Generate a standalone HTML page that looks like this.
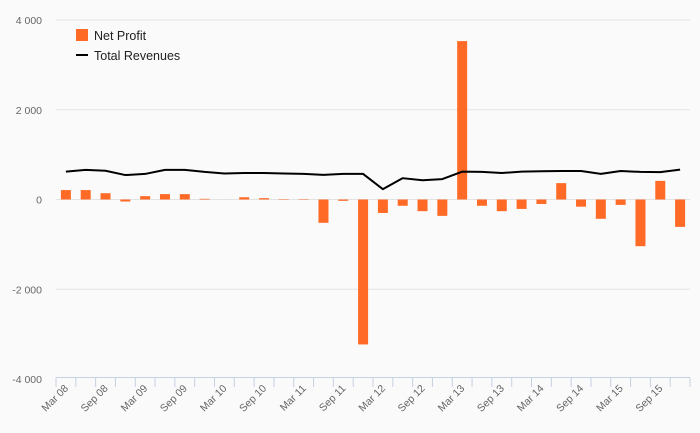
<!DOCTYPE html>
<html><head><meta charset="utf-8"><style>
html,body{margin:0;padding:0;background:#fafafa;}
svg{display:block;font-family:"Liberation Sans","DejaVu Sans",sans-serif;}
</style></head><body>
<svg id="chart" width="700" height="433">
<rect width="700" height="433" fill="#fafafa"/>
<g id="grid"></g><g id="bars"></g><g id="line"></g><g id="xaxis"></g><g id="yaxis"></g>
<g>
<rect x="76" y="29" width="12" height="12" fill="#ff6b27"/>
<text x="94" y="40" font-size="12.5" fill="#222">Net Profit</text>
<line x1="76" y1="55" x2="88" y2="55" stroke="#000" stroke-width="2"/>
<text x="94" y="60" font-size="12.5" fill="#222">Total Revenues</text>
</g>
</svg>
<script>
const quarters=["Mar 08","Jun 08","Sep 08","Dec 08","Mar 09","Jun 09","Sep 09","Dec 09","Mar 10","Jun 10","Sep 10","Dec 10","Mar 11","Jun 11","Sep 11","Dec 11","Mar 12","Jun 12","Sep 12","Dec 12","Mar 13","Jun 13","Sep 13","Dec 13","Mar 14","Jun 14","Sep 14","Dec 14","Mar 15","Jun 15","Sep 15","Dec 15"];
const netProfit=[210,210,140,-45,75,120,120,15,0,50,30,10,10,-520,-30,-3230,-300,-140,-260,-365,3530,-140,-260,-210,-100,365,-160,-430,-120,-1040,415,-610];
const totalRevenues=[620,660,640,545,570,660,660,615,580,590,590,580,570,550,570,570,230,475,430,455,620,615,590,620,630,635,635,570,635,615,610,665];
const yTicks=[4000,2000,0,-2000,-4000];
const yTickLabels=["4 000","2 000","0","-2 000","-4 000"];
const NS="http://www.w3.org/2000/svg";
const L=56,R=690,T=20,B=379;
const band=(R-L)/quarters.length;
function x(i){return L+band*(i+0.5);}
function y(v){return T+(4000-v)/8000*(B-T);}
function mk(tag,attrs,parent){const e=document.createElementNS(NS,tag);for(const k in attrs)e.setAttribute(k,attrs[k]);parent.appendChild(e);return e;}
const grid=document.getElementById('grid'),yax=document.getElementById('yaxis');
yTicks.forEach((t,i)=>{
 if(t!==-4000){const g=mk('line',{x1:L,x2:R,y1:y(t),y2:y(t),stroke:'#e3e3e3','stroke-width':1},grid);
 
 }
 const tx=mk('text',{x:42,y:y(t)+4,'text-anchor':'end','font-size':10.5,fill:'#666'},yax);
 tx.textContent=yTickLabels[i];
 
 
});
const bars=document.getElementById('bars');
netProfit.forEach((v,i)=>{
 const y0=y(0),yv=y(v);
 const r=mk('rect',{x:x(i)-5,y:Math.min(y0,yv),width:10,height:Math.max(Math.abs(yv-y0),0.01),fill:'#ff6b27'},bars);
 
 
});
const pts=totalRevenues.map((v,i)=>x(i)+','+y(v)).join(' ');
const pl=mk('polyline',{points:pts,fill:'none',stroke:'#000','stroke-width':2,'stroke-linejoin':'round'},document.getElementById('line'));


const xa=document.getElementById('xaxis');
const al=mk('line',{x1:L,x2:R,y1:B-1.5,y2:B-1.5,stroke:'#c5d0e3','stroke-width':1},xa);


for(let i=0;i<=quarters.length;i++){
 const tk=mk('line',{x1:L+band*i,x2:L+band*i,y1:B-1.5,y2:B+8,stroke:'#c5d0e3','stroke-width':1},xa);
 
 
}
quarters.forEach((q,i)=>{
 if(i%2)return;
 const xx=x(i)+3,yy=B+10;
 const t=mk('text',{x:xx,y:yy,'text-anchor':'end','font-size':10.5,fill:'#666',transform:`rotate(-45 ${xx} ${yy})`},xa);
 t.textContent=q;
 
 
});
</script>
</body></html>
